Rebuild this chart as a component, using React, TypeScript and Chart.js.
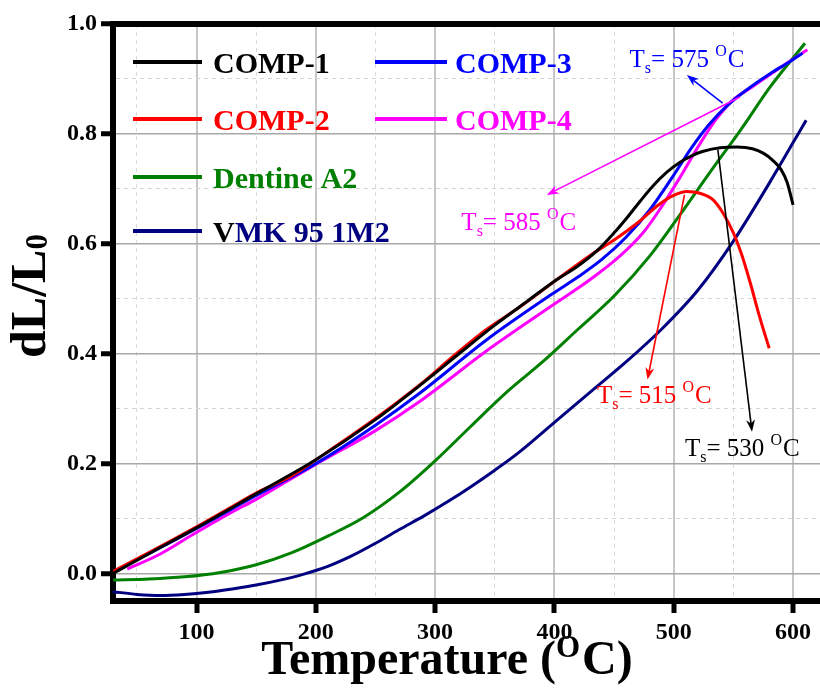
import { useEffect, useRef } from 'react';
import { Chart, registerables } from 'chart.js';
Chart.register(...registerables);

const FONT = "'Liberation Serif', 'Times New Roman', serif";

// ---- data ----
const comp1T = [30, 60, 100, 150, 200, 250, 287, 320, 350, 380, 400, 420, 436, 450, 461, 472, 482, 494, 505, 515, 524, 539, 553, 566, 575, 583, 590, 595, 600];
const comp1V = [0.0, 0.036, 0.083, 0.145, 0.207, 0.28, 0.342, 0.4, 0.452, 0.5, 0.532, 0.56, 0.588, 0.62, 0.648, 0.678, 0.704, 0.73, 0.748, 0.76, 0.768, 0.775, 0.776, 0.773, 0.765, 0.752, 0.735, 0.712, 0.671];

const comp2T = [30, 60, 100, 130, 153, 180, 200, 250, 287, 315, 343, 371, 399, 432, 450, 469, 488, 500, 511, 522, 533, 541, 550, 557, 564, 572, 580];
const comp2V = [0.004, 0.038, 0.085, 0.122, 0.15, 0.178, 0.207, 0.282, 0.343, 0.395, 0.444, 0.485, 0.53, 0.582, 0.607, 0.637, 0.672, 0.688, 0.695, 0.692, 0.68, 0.657, 0.62, 0.58, 0.53, 0.467, 0.41];

const comp3T = [30, 60, 100, 150, 200, 250, 287, 343, 399, 420, 440, 460, 480, 500, 515, 530, 545, 561, 581, 597, 608];
const comp3V = [0.003, 0.036, 0.082, 0.142, 0.2, 0.27, 0.328, 0.425, 0.51, 0.54, 0.572, 0.612, 0.662, 0.725, 0.775, 0.818, 0.852, 0.88, 0.91, 0.931, 0.947];

const comp4T = [42, 70, 97, 130, 150, 197, 250, 287, 343, 399, 430, 455, 475, 490, 505, 520, 535, 550, 566, 595, 612];
const comp4V = [0.008, 0.036, 0.071, 0.112, 0.135, 0.195, 0.26, 0.313, 0.405, 0.489, 0.535, 0.578, 0.622, 0.668, 0.72, 0.775, 0.825, 0.862, 0.886, 0.929, 0.953];

const dentineT = [30, 60, 90, 120, 150, 180, 210, 240, 270, 300, 330, 360, 390, 420, 450, 480, 505, 533, 556, 581, 610];
const dentineV = [-0.012, -0.01, -0.006, 0.002, 0.016, 0.038, 0.068, 0.102, 0.148, 0.205, 0.268, 0.33, 0.385, 0.445, 0.505, 0.578, 0.652, 0.738, 0.807, 0.886, 0.965];

const vmkT = [30, 50, 70, 90, 110, 130, 150, 170, 190, 210, 230, 250, 270, 290, 310, 330, 350, 370, 400, 430, 460, 490, 520, 550, 580, 611];
const vmkV = [-0.033, -0.038, -0.04, -0.038, -0.034, -0.028, -0.021, -0.012, -0.001, 0.013, 0.032, 0.055, 0.08, 0.104, 0.13, 0.158, 0.188, 0.22, 0.275, 0.33, 0.385, 0.445, 0.515, 0.605, 0.71, 0.825];

const seriesNames = ['COMP-1', 'COMP-2', 'COMP-3', 'COMP-4', 'Dentine A2', 'VMK 95 1M2'];
const seriesColors = ['#000000', '#ff0000', '#0000ff', '#ff00ff', '#008000', '#000080'];
const seriesT = [comp1T, comp2T, comp3T, comp4T, dentineT, vmkT];
const seriesV = [comp1V, comp2V, comp3V, comp4V, dentineV, vmkV];

const xMajorTicks = [100, 200, 300, 400, 500, 600];
const xMinorTicks = [50, 150, 250, 350, 450, 550];
const yMajorTicks = [0, 0.2, 0.4, 0.6, 0.8, 1.0];
const yMinorTicks = [0.1, 0.3, 0.5, 0.7, 0.9];
const xMin = 30;
const xMax = 622.6;
const yMin = -0.05;
const yMax = 1.0;

// softening-point annotations (temperature, colour, text anchor, arrow from/to in data units)
const annTemps = [575, 585, 515, 530];
const annColors = ['#0000ff', '#ff00ff', '#ff0000', '#000000'];
const annTextAt = [[463, 0.922], [322, 0.625], [435.6, 0.311], [509.4, 0.213]];
const annArrowFrom = [[541, 0.856], [555.5, 0.867], [509, 0.689], [537, 0.771]];
const annArrowTo = [[511, 0.907], [393.6, 0.689], [478, 0.353], [565.6, 0.258]];

const isIn = (arr: number[], v: number) => arr.some((a) => Math.abs(a - v) < 1e-6);

function drawArrow(ctx: CanvasRenderingContext2D, x1: number, y1: number, x2: number, y2: number, color: string) {
  const ang = Math.atan2(y2 - y1, x2 - x1);
  const L = 12, W = 4.5;
  ctx.save();
  ctx.strokeStyle = color;
  ctx.fillStyle = color;
  ctx.lineWidth = 1.6;
  ctx.beginPath();
  ctx.moveTo(x1, y1);
  ctx.lineTo(x2 - L * 0.6 * Math.cos(ang), y2 - L * 0.6 * Math.sin(ang));
  ctx.stroke();
  ctx.beginPath();
  ctx.moveTo(x2, y2);
  ctx.lineTo(x2 - L * Math.cos(ang) + W * Math.sin(ang), y2 - L * Math.sin(ang) - W * Math.cos(ang));
  ctx.lineTo(x2 - L * 0.7 * Math.cos(ang), y2 - L * 0.7 * Math.sin(ang));
  ctx.lineTo(x2 - L * Math.cos(ang) - W * Math.sin(ang), y2 - L * Math.sin(ang) + W * Math.cos(ang));
  ctx.closePath();
  ctx.fill();
  ctx.restore();
}

function drawTs(ctx: CanvasRenderingContext2D, x: number, y: number, temp: number, color: string) {
  ctx.save();
  ctx.fillStyle = color;
  ctx.textBaseline = 'alphabetic';
  ctx.textAlign = 'left';
  const big = `25px ${FONT}`;
  const small = `16px ${FONT}`;
  ctx.font = big;
  ctx.fillText('T', x, y);
  x += ctx.measureText('T').width;
  ctx.font = small;
  ctx.fillText('s', x, y + 6);
  x += ctx.measureText('s').width;
  ctx.font = big;
  const mid = '= ' + temp + ' ';
  ctx.fillText(mid, x, y);
  x += ctx.measureText(mid).width;
  ctx.font = small;
  ctx.fillText('O', x, y - 11);
  x += ctx.measureText('O').width + 1;
  ctx.font = big;
  ctx.fillText('C', x, y);
  ctx.restore();
}

const overlayPlugin = {
  id: 'overlay',
  afterDatasetsDraw(chart: any) {
    const ctx: CanvasRenderingContext2D = chart.ctx;
    const xs = chart.scales.x;
    const ys = chart.scales.y;
    for (let i = 0; i < annTemps.length; i++) {
      drawArrow(
        ctx,
        xs.getPixelForValue(annArrowFrom[i][0]), ys.getPixelForValue(annArrowFrom[i][1]),
        xs.getPixelForValue(annArrowTo[i][0]), ys.getPixelForValue(annArrowTo[i][1]),
        annColors[i]
      );
      drawTs(ctx, xs.getPixelForValue(annTextAt[i][0]), ys.getPixelForValue(annTextAt[i][1]), annTemps[i], annColors[i]);
    }
  },
  afterDraw(chart: any) {
    const ctx: CanvasRenderingContext2D = chart.ctx;
    // legend (two columns)
    const legendCols = [
      { lineX: [133, 202], textX: 213, items: [0, 1, 4, 5] },
      { lineX: [375, 447], textX: 455, items: [2, 3] },
    ];
    const rowY = [62, 119, 177, 231];
    ctx.save();
    ctx.font = `bold 30px ${FONT}`;
    ctx.textBaseline = 'alphabetic';
    ctx.textAlign = 'left';
    legendCols.forEach((col) => {
      col.items.forEach((si, r) => {
        const y = rowY[r];
        ctx.strokeStyle = seriesColors[si];
        ctx.lineWidth = 4;
        ctx.beginPath();
        ctx.moveTo(col.lineX[0], y);
        ctx.lineTo(col.lineX[1], y);
        ctx.stroke();
        const name = seriesNames[si];
        if (si === 5) {
          ctx.fillStyle = '#000000';
          ctx.fillText(name[0], col.textX, y + 11);
          const w = ctx.measureText(name[0]).width;
          ctx.fillStyle = seriesColors[si];
          ctx.fillText(name.slice(1), col.textX + w, y + 11);
        } else {
          ctx.fillStyle = seriesColors[si];
          ctx.fillText(name, col.textX, y + 11);
        }
      });
    });
    ctx.restore();

    // x axis title: Temperature (°C) with superscript O
    ctx.save();
    ctx.fillStyle = '#000';
    ctx.textBaseline = 'alphabetic';
    ctx.textAlign = 'left';
    const tBig = `bold 48px ${FONT}`;
    const tSmall = `bold 31px ${FONT}`;
    ctx.font = tBig;
    const p1 = 'Temperature (';
    const w1 = ctx.measureText(p1).width;
    const p3 = 'C)';
    const w3 = ctx.measureText(p3).width;
    ctx.font = tSmall;
    const w2 = ctx.measureText('O').width;
    const total = w1 + w2 + w3 + 2;
    let x = 447 - total / 2;
    const by = 674;
    ctx.font = tBig;
    ctx.fillText(p1, x, by);
    x += w1;
    ctx.font = tSmall;
    ctx.fillText('O', x, by - 17);
    x += w2 + 2;
    ctx.font = tBig;
    ctx.fillText(p3, x, by);
    ctx.restore();

    // y axis title: dL/L0 (subscript 0), rotated
    ctx.save();
    ctx.translate(45, 296);
    ctx.rotate(-Math.PI / 2);
    ctx.fillStyle = '#000';
    ctx.textBaseline = 'alphabetic';
    ctx.textAlign = 'left';
    const yBig = `bold 50px ${FONT}`;
    const ySmall = `bold 31px ${FONT}`;
    ctx.font = yBig;
    const q1 = 'dL/L';
    const q1w = ctx.measureText(q1).width;
    ctx.font = ySmall;
    const q2w = ctx.measureText('0').width;
    const start = -(q1w + q2w) / 2;
    ctx.font = yBig;
    ctx.fillText(q1, start, 0);
    ctx.font = ySmall;
    ctx.fillText('0', start + q1w, 2);
    ctx.restore();
  },
};

export default function App() {
  const ref = useRef<HTMLCanvasElement>(null);
  useEffect(() => {
    const canvas = ref.current;
    if (!canvas) return;
    const tickFont = { family: FONT, size: 24, weight: 'bold' as const };
    const chart = new Chart(canvas, {
      type: 'line',
      data: {
        datasets: seriesNames.map((name, i) => ({
          label: name,
          data: seriesT[i].map((t, j) => ({ x: t, y: seriesV[i][j] })),
          borderColor: seriesColors[i],
          backgroundColor: seriesColors[i],
          borderWidth: 3,
          pointRadius: 0,
          fill: false,
          cubicInterpolationMode: 'monotone' as const,
        })),
      },
      options: {
        responsive: false,
        animation: false,
        devicePixelRatio: 1,
        layout: { padding: 0 },
        plugins: { legend: { display: false }, tooltip: { enabled: false } },
        scales: {
          x: {
            type: 'linear',
            position: 'bottom',
            min: xMin,
            max: xMax,
            afterBuildTicks: (s: any) => {
              s.ticks = [...xMinorTicks, ...xMajorTicks].sort((a, b) => a - b).map((v) => ({ value: v }));
            },
            afterFit: (s: any) => {
              s.height = 88;
            },
            ticks: {
              autoSkip: false,
              maxRotation: 0,
              minRotation: 0,
              padding: 5,
              color: '#000',
              font: tickFont,
              callback: (v: any) => (isIn(xMajorTicks, Number(v)) ? String(v) : ''),
            },
            grid: {
              drawTicks: true,
              tickLength: 12,
              tickWidth: 5,
              tickColor: (c: any) => (c.tick && isIn(xMajorTicks, c.tick.value) ? '#000' : 'rgba(0,0,0,0)'),
              color: (c: any) => (c.tick && isIn(xMajorTicks, c.tick.value) ? '#c6c6c6' : '#dadada'),
              lineWidth: (c: any) => (c.tick && isIn(xMajorTicks, c.tick.value) ? 2 : 1),
            },
            border: {
              display: true,
              color: '#000',
              width: 6,
              dash: (c: any) => (c.tick && !isIn(xMajorTicks, c.tick.value) ? [4, 4] : []),
            },
          },
          xTop: {
            type: 'linear',
            position: 'top',
            min: xMin,
            max: xMax,
            afterFit: (s: any) => {
              s.height = 24;
            },
            ticks: { display: false },
            grid: { display: true, drawOnChartArea: false, drawTicks: false },
            border: { display: true, color: '#000', width: 6 },
          },
          y: {
            type: 'linear',
            position: 'left',
            min: yMin,
            max: yMax,
            afterBuildTicks: (s: any) => {
              s.ticks = [...yMinorTicks, ...yMajorTicks].sort((a, b) => a - b).map((v) => ({ value: v }));
            },
            afterFit: (s: any) => {
              s.width = 113;
            },
            ticks: {
              autoSkip: false,
              padding: 4,
              color: '#000',
              font: tickFont,
              callback: (v: any) => (isIn(yMajorTicks, Number(v)) ? Number(v).toFixed(1) : ''),
            },
            grid: {
              drawTicks: true,
              tickLength: 12,
              tickWidth: 5,
              tickColor: (c: any) => (c.tick && isIn(yMajorTicks, c.tick.value) ? '#000' : 'rgba(0,0,0,0)'),
              color: (c: any) => (c.tick && isIn(yMajorTicks, c.tick.value) ? '#a8a8a8' : '#d6d6d6'),
              lineWidth: (c: any) => (c.tick && isIn(yMajorTicks, c.tick.value) ? 1.5 : 1),
            },
            border: {
              display: true,
              color: '#000',
              width: 6,
              dash: (c: any) => (c.tick && !isIn(yMajorTicks, c.tick.value) ? [4, 4] : []),
            },
          },
        },
      } as any,
      plugins: [overlayPlugin],
    });
    return () => chart.destroy();
  }, []);
  return (
    <div style={{ position: 'fixed', left: 0, top: 0, width: 820, height: 689, background: '#fff', overflow: 'hidden' }}>
      <canvas ref={ref} width={820} height={689} style={{ display: 'block', width: 820, height: 689 }} />
    </div>
  );
}
